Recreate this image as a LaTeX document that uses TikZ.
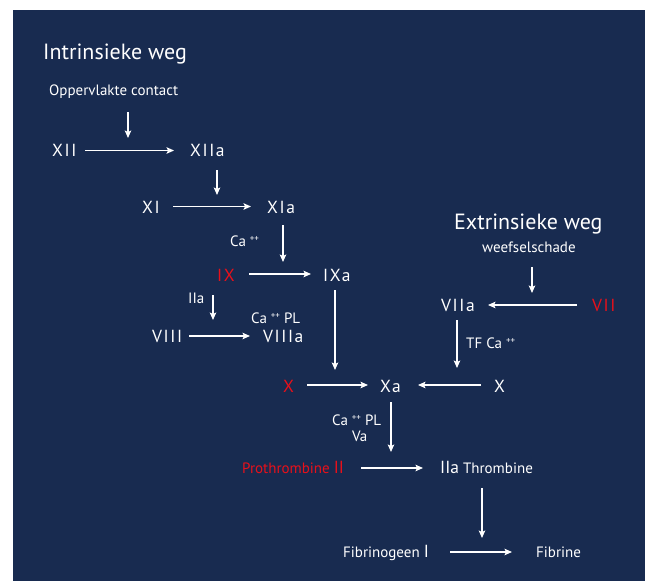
\documentclass[tikz,border=0pt]{standalone}
\usepackage{fontspec}
\setmainfont{PT Sans}
\newfontfamily\spc[LetterSpace=9]{PT Sans}
\usetikzlibrary{arrows.meta,calc}
\definecolor{bg}{HTML}{182B50}
\definecolor{rd}{HTML}{E8101A}
\newcommand{\pp}{\hspace{4pt}\raisebox{5pt}{\fontsize{9}{9}\selectfont ++}}
\begin{document}
\begin{tikzpicture}[x=1pt,y=-1pt,
  lbl/.style={anchor=base west,inner sep=0pt,text=white},
  fac/.style={lbl,font=\spc\fontsize{17.5}{17.5}\selectfont},
  sm/.style={lbl,font=\fontsize{15}{15}\selectfont},
  ttl/.style={lbl,font=\fontsize{22}{22}\selectfont},
  sub/.style={lbl,font=\fontsize{15}{15}\selectfont},
  arr/.style={draw=white,line width=1.4pt,-{Stealth[length=7.5pt,width=6.5pt,inset=1.5pt]}}
]
\useasboundingbox (0,0) rectangle (645,581);
\fill[white] (0,0) rectangle (645,581);
\fill[bg] (13,10) rectangle (645,581);

\node[ttl] (t1) at (43,59) {Intrinsieke weg};
\node[sub] (opp) at (49,95) {Oppervlakte contact};
\node[fac] (xii) at (52,156) {XII};
\node[fac] (xiia) at (190,156) {XIIa};
\node[fac] (xi) at (142,213) {XI};
\node[fac] (xia) at (267,213) {XIa};
\node[sm] (ca1) at (230,246) {Ca\pp};
\node[fac,text=rd] (ix) at (217,281) {IX};
\node[fac] (ixa) at (323,281) {IXa};
\node[sm] (iia) at (188,303) {IIa};
\node[sm] (capl1) at (251,323) {Ca\pp\ PL};
\node[fac] (viii) at (152,342) {VIII};
\node[fac] (viiia) at (263,342) {VIIIa};
\node[fac,text=rd] (xl) at (283,392) {X};
\node[fac] (xa) at (380,392) {Xa};
\node[fac] (xr) at (494,392) {X};
\node[ttl] (t2) at (454,229) {Extrinsieke weg};
\node[sub] (wee) at (482,252) {weefselschade};
\node[fac] (viia) at (441,311) {VIIa};
\node[fac,text=rd] (vii) at (592,311) {VII};
\node[sm] (tf) at (466,348) {TF Ca\pp};
\node[sm] (capl2) at (332,425) {Ca\pp\ PL};
\node[sm] (va) at (352,441) {Va};
\node[lbl,text=rd,font=\fontsize{15}{15}\selectfont] (proth) at (242,473) {Prothrombine {\fontsize{17.5}{17.5}\selectfont II}};
\node[lbl,font=\fontsize{15}{15}\selectfont] (iiat) at (440,473) {{\fontsize{17.5}{17.5}\selectfont IIa} Thrombine};
\node[lbl,font=\fontsize{15}{15}\selectfont] (fbg) at (343,557) {Fibrinogeen {\fontsize{17.5}{17.5}\selectfont I}};
\node[lbl,font=\fontsize{15}{15}\selectfont] (fib) at (536,557) {Fibrine};

% horizontal arrows
\draw[arr] ($(xii.base west)+(33,-5.5)$) -- ($(xiia.base west)+(-16,-5.5)$);
\draw[arr] ($(xi.base west)+(31,-6.5)$) -- ($(xia.base west)+(-16,-6.5)$);
\draw[arr] ($(ix.base west)+(32,-7)$) -- ($(ixa.base west)+(-12,-7)$);
\draw[arr] ($(viii.base west)+(37,-6)$) -- ($(viiia.base west)+(-13,-6)$);
\draw[arr] ($(xl.base west)+(24,-7)$) -- ($(xa.base west)+(-12,-7)$);
\draw[arr] ($(xr.base west)+(-13,-7)$) -- ($(xa.base west)+(38,-7)$);
\draw[arr] ($(vii.base west)+(-15,-6)$) -- ($(viia.base west)+(47,-6)$);
\draw[arr] ($(proth.base west)+(119,-5)$) -- ($(iiat.base west)+(-17,-5)$);
\draw[arr] ($(fbg.base west)+(107,-5)$) -- ($(fib.base west)+(-24,-5)$);

% vertical arrows
\draw[arr] ($(opp.base west)+(79,17)$) -- ($(xii.base west)+(76,-18)$);
\draw[arr] ($(xiia.base west)+(27,14)$) -- ($(xi.base west)+(75,-18)$);
\draw[arr] ($(xia.base west)+(16,12)$) -- ($(ix.base west)+(66,-19)$);
\draw[arr] ($(iia.base west)+(25,-8)$) -- ($(viii.base west)+(61,-22)$);
\draw[arr] ($(ixa.base west)+(12,9)$) -- ($(xl.base west)+(52,-22)$);
\draw[arr] ($(viia.base west)+(16,9)$) -- ($(xr.base west)+(-37,-24)$);
\draw[arr] ($(wee.base west)+(50,15)$) -- ($(vii.base west)+(-60,-18)$);
\draw[arr] ($(xa.base west)+(11,10)$) -- ($(proth.base west)+(149,-21)$);
\draw[arr] ($(iiat.base west)+(42,15)$) -- ($(fbg.base west)+(139,-19)$);
\end{tikzpicture}
\end{document}
